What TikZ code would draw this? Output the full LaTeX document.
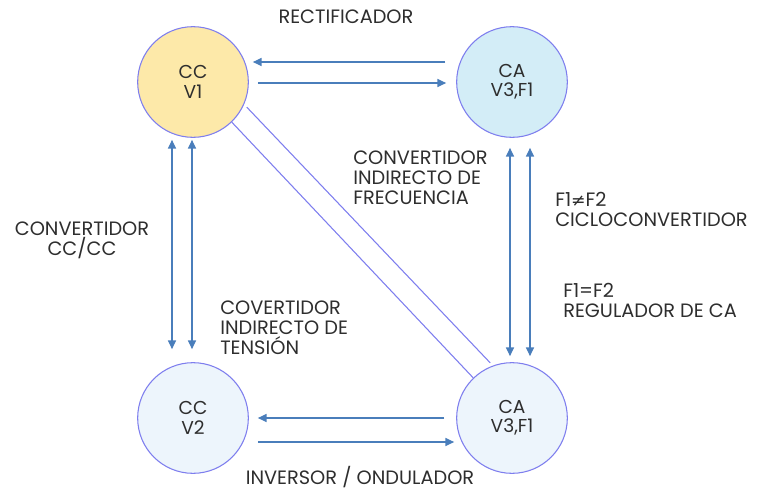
\documentclass[tikz,border=0pt]{standalone}
\usepackage{fontspec}
\setmainfont{Poppins}
\newfontfamily\symfont{DejaVu Sans}
\usetikzlibrary{arrows.meta, positioning}

\definecolor{ringblue}{HTML}{7E7EEE}
\definecolor{arrowblue}{HTML}{4A7EBB}
\definecolor{dcyellow}{HTML}{FDE9A9}
\definecolor{acblue}{HTML}{D3EDF7}
\definecolor{paleblue}{HTML}{EDF5FC}
\definecolor{labelgray}{HTML}{2E2E2E}

\begin{document}
\begin{tikzpicture}[
    x=0.75pt, y=0.75pt,
    state/.style={draw=ringblue, line width=0.8pt, circle, minimum size=83pt, inner sep=0pt,
                  align=center, font=\fontsize{14}{14.5}\selectfont, text=labelgray},
    label text/.style={inner sep=0pt, font=\fontsize{14.5}{15}\selectfont, text=labelgray},
    arrow/.style={-{Triangle[width=6pt,length=6.5pt]}, draw=arrowblue, fill=arrowblue, line width=0.9pt},
    double arrow/.style={{Triangle[width=6pt,length=6.5pt]}-{Triangle[width=6pt,length=6.5pt]}, draw=arrowblue, fill=arrowblue, line width=0.9pt},
    link/.style={draw=ringblue, line width=0.8pt}
]
\useasboundingbox (0,0) rectangle (765,-490);

% Converter states
\node[state, fill=dcyellow] (CC1) at (193,-82) {CC\\V1};
\node[state, fill=acblue] (CA1) at (512,-82) {CA\\V3,F1};
\node[state, fill=paleblue] (CC2) at (193,-418) {CC\\V2};
\node[state, fill=paleblue] (CA2) at (512,-418) {CA\\V3,F1};

% Top pair: rectifier
\draw[arrow] ([shift={(-11,20)}]CA1.west) -- ([shift={(4,20)}]CC1.east);
\draw[arrow] ([shift={(9,-1)}]CC1.east) -- ([shift={(-10,-1)}]CA1.west);

% Bottom pair: inverter
\draw[arrow] ([shift={(-12,0)}]CA2.west) -- ([shift={(9,0)}]CC2.east);
\draw[arrow] ([shift={(9,-24)}]CC2.east) -- ([shift={(-2,-24)}]CA2.west);

% Left pair: dc/dc
\draw[double arrow] ([shift={(-21,-2)}]CC1.south) -- ([shift={(-21,13)}]CC2.north);
\draw[double arrow] ([shift={(-1,-2)}]CC1.south) -- ([shift={(-1,13)}]CC2.north);

% Right pair: ac/ac
\draw[double arrow] ([shift={(-2,-10)}]CA1.south) -- ([shift={(-2,6)}]CA2.north);
\draw[double arrow] ([shift={(18,-10)}]CA1.south) -- ([shift={(18,6)}]CA2.north);

% Diagonal link
\draw[link] (CC1.-46) -- (CA2.134);
\draw[link] ([shift={(15,15)}]CC1.-46) -- ([shift={(17,15)}]CA2.134);

% Labels
\node[label text] (rect) at (346,-17) {RECTIFICADOR};
\node[label text, anchor=west, align=left] (indfreq) at (353,-178) {CONVERTIDOR\\INDIRECTO DE\\FRECUENCIA};
\node[label text, anchor=west, align=left] (ciclo) at (555,-209) {F1{\symfont\fontsize{13}{15}\selectfont ≠}F2\\CICLOCONVERTIDOR};
\node[label text, anchor=west, align=left] (regca) at (563,-300) {F1=F2\\REGULADOR DE CA};
\node[label text, align=center] (dcdc) at (82,-240) {CONVERTIDOR\\CC/CC};
\node[label text, anchor=west, align=left] (indten) at (220,-328) {COVERTIDOR\\INDIRECTO DE\\TENSIÓN};
\node[label text] (inv) at (360,-477) {INVERSOR / ONDULADOR};

\end{tikzpicture}
\end{document}
